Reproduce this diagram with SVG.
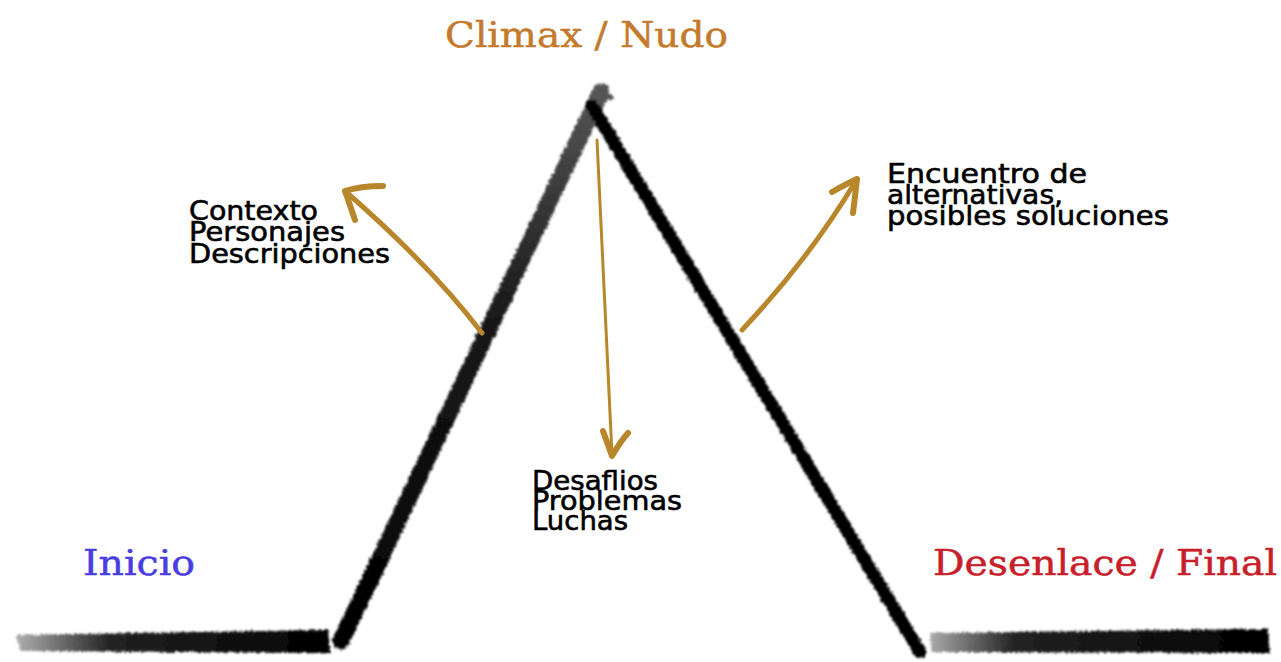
<svg xmlns="http://www.w3.org/2000/svg" width="1281" height="662" viewBox="0 0 1281 662">
  <defs>
    <filter id="brush" x="-10%" y="-10%" width="120%" height="120%">
      <feTurbulence type="fractalNoise" baseFrequency="0.35" numOctaves="2" seed="3" result="n"/>
      <feDisplacementMap in="SourceGraphic" in2="n" scale="5" xChannelSelector="R" yChannelSelector="G" result="d"/>
      <feGaussianBlur in="d" stdDeviation="0.8"/>
    </filter>
    <linearGradient id="baseL" x1="0" y1="0" x2="1" y2="0">
      <stop offset="0" stop-color="#b0b0b0"/>
      <stop offset="0.3" stop-color="#222"/>
      <stop offset="1" stop-color="#000"/>
    </linearGradient>
    <linearGradient id="baseR" x1="0" y1="0" x2="1" y2="0">
      <stop offset="0" stop-color="#aaa"/>
      <stop offset="0.25" stop-color="#222"/>
      <stop offset="1" stop-color="#000"/>
    </linearGradient>
    <linearGradient id="slopeL" x1="0" y1="1" x2="0" y2="0">
      <stop offset="0" stop-color="#000"/>
      <stop offset="0.6" stop-color="#1a1a1a"/>
      <stop offset="1" stop-color="#555"/>
    </linearGradient>
    <style>
      .bk { font-family: "DejaVu Sans", "Liberation Sans", sans-serif; font-size: 27px; fill: #000; stroke: #000; stroke-width: 0.6px; }
      .ser { font-family: "DejaVu Serif", "Liberation Serif", serif; font-size: 36px; stroke-width: 0.5px; }
      .arr { fill: none; stroke: #b8862b; stroke-linecap: round; stroke-linejoin: round; }
    </style>
  </defs>
  <rect width="1281" height="662" fill="#fff"/>

  <g id="mountain" filter="url(#brush)">
    <polygon points="16,635 328,630 330,653 20,651" fill="url(#baseL)"/>
    <polygon points="930,633 1268,629 1270,653 932,652" fill="url(#baseR)"/>
    <line x1="341" y1="641" x2="601" y2="92" stroke="url(#slopeL)" stroke-width="17" stroke-linecap="round"/>
    <line x1="592" y1="106" x2="920" y2="652" stroke="#000" stroke-width="13" stroke-linecap="round"/>
    <path d="M600,86 L612,100 M606,84 L596,102" stroke="#555" stroke-width="5" fill="none"/>
  </g>

  <g id="connectors">
    <g id="arrow-inicio">
      <path class="arr" d="M482,333 Q430,265 345,191" stroke-width="5"/>
      <path class="arr" d="M383,186 Q360,186 345,191 Q350,205 355,220" stroke-width="6"/>
    </g>
    <g id="arrow-nudo">
      <path class="arr" d="M597,140 Q604,290 612,455" stroke-width="3"/>
      <path class="arr" d="M603,431 Q608,445 612,456 Q620,442 628,433" stroke-width="6"/>
    </g>
    <g id="arrow-desenlace">
      <path class="arr" d="M742,330 Q810,258 857,179" stroke-width="5"/>
      <path class="arr" d="M832,192 Q846,184 857,179 Q855,197 853,213" stroke-width="6"/>
    </g>
  </g>

  <g id="climax">
    <text class="ser" x="445" y="47" fill="#c47a2c" stroke="#c47a2c" textLength="283" lengthAdjust="spacingAndGlyphs">Climax / Nudo</text>
  </g>
  <g id="inicio">
    <text class="ser" x="83" y="575" fill="#4a3de0" stroke="#4a3de0" textLength="112" lengthAdjust="spacingAndGlyphs">Inicio</text>
  </g>
  <g id="desenlace">
    <text class="ser" x="933" y="575" fill="#c8202a" stroke="#c8202a" textLength="344" lengthAdjust="spacingAndGlyphs">Desenlace / Final</text>
  </g>

  <g id="contexto">
    <text class="bk" x="189" y="220" textLength="129" lengthAdjust="spacingAndGlyphs">Contexto</text>
    <text class="bk" x="189" y="241" textLength="156" lengthAdjust="spacingAndGlyphs">Personajes</text>
    <text class="bk" x="189" y="263" textLength="201" lengthAdjust="spacingAndGlyphs">Descripciones</text>
  </g>
  <g id="encuentro">
    <text class="bk" x="887" y="183" textLength="200" lengthAdjust="spacingAndGlyphs">Encuentro de</text>
    <text class="bk" x="887" y="204" textLength="176" lengthAdjust="spacingAndGlyphs">alternativas,</text>
    <text class="bk" x="887" y="225" textLength="282" lengthAdjust="spacingAndGlyphs">posibles soluciones</text>
  </g>
  <g id="desafios">
    <text class="bk" x="532" y="490" textLength="126" lengthAdjust="spacingAndGlyphs">Desaflios</text>
    <text class="bk" x="532" y="510" textLength="150" lengthAdjust="spacingAndGlyphs">Problemas</text>
    <text class="bk" x="532" y="530" textLength="96" lengthAdjust="spacingAndGlyphs">Luchas</text>
  </g>
</svg>
